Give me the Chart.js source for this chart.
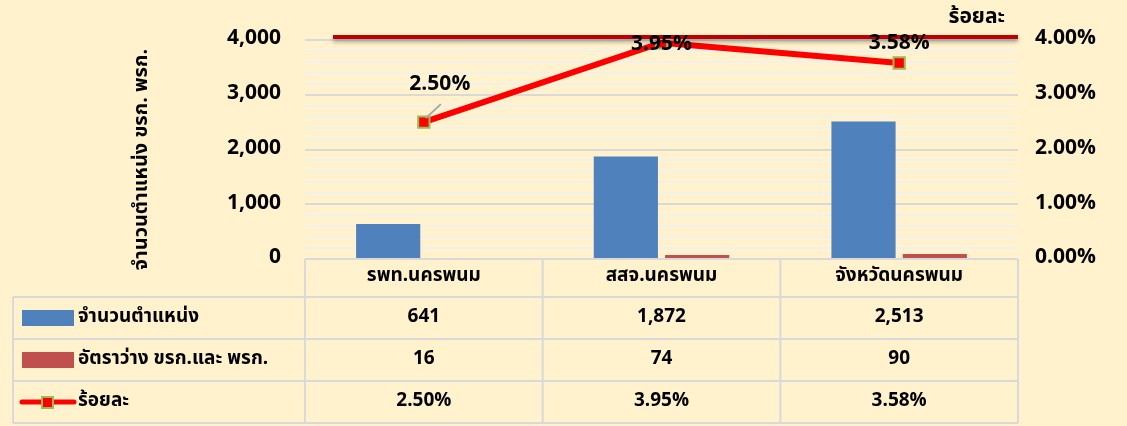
<!DOCTYPE html>
<html><head><meta charset="utf-8">
<script src="https://cdn.jsdelivr.net/npm/chart.js@4/dist/chart.umd.min.js"></script>
<style>html,body{margin:0;padding:0;background:#FFF2CC;}#wrap{width:1127px;height:426px;}</style>
</head><body><div id="wrap"><canvas id="c" width="1127" height="426"></canvas></div>
<script>
const categories = ['รพท.นครพนม', 'สสจ.นครพนม', 'จังหวัดนครพนม'];
const positions = [641, 1872, 2513];
const vacancies = [16, 74, 90];
const percents = [2.50, 3.95, 3.58];
const targetPercent = 4.0;
const seriesNames = ['จำนวนตำแหน่ง', 'อัตราว่าง ขรก.และ พรก.', 'ร้อยละ'];
const leftAxisTitle = 'จำนวนตำแหน่ง ขรก. พรก.';
const targetLabel = 'ร้อยละ';

const FONT = '"Noto Sans Thai","Noto Sans","DejaVu Sans",sans-serif';
const BLUE = '#4F81BD', RED = '#C0504D', LINE = '#FF0000', GREEN = '#9BBB59';
const GRID_MAJOR = '#D9D9D9', GRID_MINOR = '#F2F0EC', TABLE = '#D9D9D9';

const tablePlugin = {
  id: 'table',
  afterDraw(chart) {
    const ctx = chart.ctx, ca = chart.chartArea, x = chart.scales.x, y1 = chart.scales.y1;
    const step = x.getPixelForValue(1) - x.getPixelForValue(0);
    const edges = categories.map((c, i) => x.getPixelForValue(i) - step / 2);
    edges.push(x.getPixelForValue(categories.length - 1) + step / 2);
    const top = ca.bottom, hdrBot = top + 38, rowH = 42, tLeft = 13;
    ctx.save();
    // target line
    const ty = y1.getPixelForValue(targetPercent) - 3;
    ctx.save();
    ctx.shadowColor = 'rgba(0,0,0,0.35)'; ctx.shadowOffsetY = 3; ctx.shadowBlur = 4;
    ctx.strokeStyle = '#C00000'; ctx.lineWidth = 4;
    ctx.beginPath(); ctx.moveTo(ca.left + 28, ty); ctx.lineTo(ca.right, ty); ctx.stroke();
    ctx.restore();
    ctx.fillStyle = '#000'; ctx.font = 'bold 21px ' + FONT; ctx.textAlign = 'right'; ctx.textBaseline = 'middle';
    ctx.fillText(targetLabel, ca.right - 13, ty - 18);
    // data labels on line
    const meta = chart.getDatasetMeta(2);
    const offs = [[16, -36], [0, 3], [0, -18]];
    ctx.textAlign = 'center';
    meta.data.forEach((pt, i) => {
      const lx = pt.x + offs[i][0], ly = pt.y + offs[i][1];
      if (offs[i][1] < -25) {
        ctx.strokeStyle = '#A6A6A6'; ctx.lineWidth = 2;
        ctx.beginPath(); ctx.moveTo(pt.x + 2, pt.y - 4); ctx.lineTo(pt.x + 17, pt.y - 18); ctx.stroke();
      }
      ctx.fillStyle = '#000';
      ctx.fillText(percents[i].toFixed(2) + '%', lx, ly);
    });
    // axis title
    ctx.save();
    ctx.translate(143, (ca.top + ca.bottom) / 2 + 10);
    ctx.rotate(-Math.PI / 2);
    ctx.font = 'bold 20px ' + FONT; ctx.fillText(leftAxisTitle, 0, 0);
    ctx.restore();
    // table lines
    ctx.strokeStyle = TABLE; ctx.lineWidth = 2;
    ctx.beginPath();
    ctx.moveTo(edges[0], top); ctx.lineTo(edges[3], top);
    edges.forEach(e => { ctx.moveTo(e, top); ctx.lineTo(e, hdrBot + rowH * 3); });
    ctx.moveTo(tLeft, hdrBot); ctx.lineTo(tLeft, hdrBot + rowH * 3);
    for (let r = 0; r <= 3; r++) { ctx.moveTo(tLeft, hdrBot + rowH * r); ctx.lineTo(edges[3], hdrBot + rowH * r); }
    ctx.stroke();
    // header text
    ctx.fillStyle = '#000'; ctx.font = 'bold 19px ' + FONT; ctx.textAlign = 'center'; ctx.textBaseline = 'middle';
    categories.forEach((c, i) => ctx.fillText(c, (edges[i] + edges[i + 1]) / 2, top + 18));
    const rows = [positions.map(v => v.toLocaleString('en-US')), vacancies.map(v => String(v)), percents.map(v => v.toFixed(2) + '%')];
    rows.forEach((row, r) => {
      const cy = hdrBot + rowH * r + rowH / 2;
      row.forEach((t, i) => ctx.fillText(t, (edges[i] + edges[i + 1]) / 2, cy));
      if (r < 2) {
        ctx.fillStyle = r === 0 ? BLUE : RED;
        ctx.fillRect(22, cy - 8, 52, 16);
      } else {
        ctx.strokeStyle = LINE; ctx.lineWidth = 5; ctx.lineCap = 'round';
        ctx.beginPath(); ctx.moveTo(22, cy); ctx.lineTo(74, cy); ctx.stroke();
        ctx.fillStyle = LINE; ctx.fillRect(42, cy - 5, 11, 11);
        ctx.strokeStyle = GREEN; ctx.lineWidth = 2; ctx.strokeRect(42, cy - 5, 11, 11);
      }
      ctx.fillStyle = '#000'; ctx.textAlign = 'left';
      ctx.fillText(seriesNames[r], 78, cy);
      ctx.textAlign = 'center';
    });
    ctx.restore();
  }
};

new Chart(document.getElementById('c'), {
  data: {
    labels: categories,
    datasets: [
      { type: 'bar', label: seriesNames[0], data: positions, backgroundColor: BLUE, yAxisID: 'y', order: 2, categoryPercentage: 0.6, barPercentage: 0.9 },
      { type: 'bar', label: seriesNames[1], data: vacancies, backgroundColor: RED, yAxisID: 'y', order: 2, categoryPercentage: 0.6, barPercentage: 0.9 },
      { type: 'line', label: seriesNames[2], data: percents, yAxisID: 'y1', order: 0, borderColor: LINE, borderWidth: 6,
        pointStyle: 'rect', pointRadius: 8, pointBackgroundColor: LINE, pointBorderColor: GREEN, pointBorderWidth: 2 }
    ]
  },
  options: {
    responsive: false, animation: false, maintainAspectRatio: false,
    layout: { padding: { top: 40, bottom: 167, left: 0, right: 0 } },
    plugins: { legend: { display: false }, tooltip: { enabled: false } },
    scales: {
      x: { display: false },
      y: {
        min: 0, max: 4000,
        afterFit(s) { s.width = 305; },
        border: { display: false },
        grid: { color: c => (c.tick && c.tick.value % 1000 === 0) ? GRID_MAJOR : GRID_MINOR, lineWidth: 2, drawTicks: false },
        ticks: { stepSize: 200, autoSkip: false, padding: 24, color: '#000', font: { family: FONT, size: 21, weight: 'bold' },
          callback: v => v % 1000 === 0 ? v.toLocaleString('en-US') : '' }
      },
      y1: {
        position: 'right', min: 0, max: 4,
        afterFit(s) { s.width = 109; },
        border: { display: false },
        grid: { display: false, drawTicks: false },
        ticks: { stepSize: 1, padding: 17, color: '#000', font: { family: FONT, size: 21, weight: 'bold' },
          callback: v => v.toFixed(2) + '%' }
      }
    }
  },
  plugins: [tablePlugin]
});
</script></body></html>
